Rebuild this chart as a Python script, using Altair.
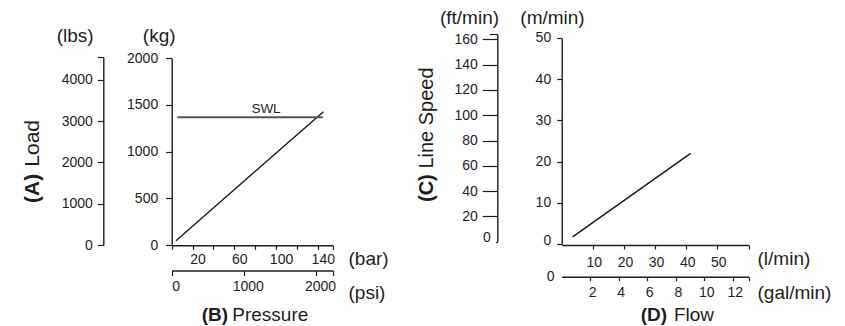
import altair as alt
import pandas as pd

# ---------------- data ----------------
# Panel (A)/(B): load vs pressure
pressure_bar = [4.1, 145.4]
load_kg = [46, 1428]
swl_bar_start = [5.4]
swl_bar_end = [144.8]
swl_kg = [1368]

kg_ticks = [0, 500, 1000, 1500, 2000]
lbs_ticks = [0, 1000, 2000, 3000, 4000]
bar_ticks = [0, 20, 40, 60, 80, 100, 120, 140]
bar_labels = [20, 60, 100, 140]
psi_ticks = [0, 1000, 2000]
kg_max, lbs_max, bar_max, psi_max = 2000, 4550, 154.6, 2236

# Panel (C)/(D): line speed vs flow
flow_lmin = [3.5, 41.4]
speed_mmin = [1.8, 22.0]
mmin_ticks = [0, 10, 20, 30, 40, 50]
ftmin_ticks = [0, 20, 40, 60, 80, 100, 120, 140, 160]
lmin_ticks = [10, 20, 30, 40, 50]
gal_ticks = [2, 4, 6, 8, 10, 12]
mmin_max, ftmin_max, lmin_max, gal_max = 50, 164, 60, 13.1

# ---------------- style / layout ----------------
FONT = "Liberation Sans"
INK = "#1e1e1e"
W, H = 829, 318

base_axis = dict(
    domainColor=INK, domainWidth=1.4, tickColor=INK, tickWidth=1.2,
    labelFont=FONT, labelFontSize=14, labelColor=INK, format="d",
    titleFont=FONT, titleFontSize=19, titleFontWeight="normal", titleColor=INK,
    grid=False, labelOverlap=False, labelFlush=False,
    titleAngle=0, titleBaseline="middle",
)


def lin(domain, rng):
    return alt.Scale(domain=domain, range=rng, nice=False, zero=False)


# left panel scales
kg_scale = lin([0, kg_max], [237, 50.3])
lbs_scale = lin([0, lbs_max], [237, 49.3])
bar_scale = lin([0, bar_max], [163.7, 325])
psi_scale = lin([0, psi_max], [163.7, 325])
# right panel scales
mmin_scale = lin([0, mmin_max], [236.3, 29.7])
ftmin_scale = lin([0, ftmin_max], [233.7, 26.3])
lmin_scale = lin([0, lmin_max], [553.7, 740.5])
gal_scale = lin([0, gal_max], [553.7, 740.5])

kg_axis = alt.Axis(orient="left", offset=-163.7, values=kg_ticks, tickSize=6,
                   labelPadding=8, title="(kg)", titleX=-13, titleY=27,
                   titleAlign="center", **base_axis)
lbs_axis = alt.Axis(orient="left", offset=-95.3, values=lbs_ticks + [lbs_max],
                    labelExpr="datum.value > 4400 ? '' : datum.label",
                    tickSize=6, labelPadding=5, title="(lbs)", titleX=-28.6,
                    titleY=27, titleAlign="center", **base_axis)
bar_axis = alt.Axis(orient="bottom", offset=237.3 - H, values=bar_ticks + [bar_max],
                    labelExpr="indexof([" + ",".join(str(v) for v in bar_labels)
                    + "], datum.value) >= 0 ? datum.label : ''",
                    tickSize=4, labelPadding=3, labelOffset=5, title="(bar)",
                    titleX=340, titleY=12.7, titleAlign="left", **base_axis)
psi_axis = alt.Axis(orient="bottom", offset=262.5 - H, values=psi_ticks + [psi_max],
                    labelExpr="datum.value > 2100 ? '' : datum.label",
                    tickSize=5, labelPadding=4, labelOffset=4, title="(psi)",
                    titleX=340, titleY=21.5, titleAlign="left", **base_axis)

mmin_axis = alt.Axis(orient="left", offset=-553.7, values=mmin_ticks, tickSize=5,
                     labelPadding=6,
                     labelBaseline={"condition": {"test": "datum.value == 0", "value": "alphabetic"},
                                    "value": "middle"},
                     title="(m/min)", titleX=-9.7, titleY=9.5, titleAlign="center",
                     **base_axis)
ftmin_axis = alt.Axis(orient="left", offset=-489.3, values=ftmin_ticks + [ftmin_max],
                      labelExpr="datum.value > 162 ? '' : datum.label",
                      tickSize={"condition": [{"test": "datum.value == 0", "value": 2},
                                              {"test": "datum.value > 162", "value": 8}],
                                "value": 15},
                      labelPadding=5,
                      labelBaseline={"condition": {"test": "datum.value == 0", "value": "alphabetic"},
                                     "value": "middle"},
                      title="(ft/min)", titleX=-28.3, titleY=9.5, titleAlign="center",
                      **base_axis)
lmin_axis = alt.Axis(orient="bottom", offset=237 - H, values=lmin_ticks + [lmin_max],
                     labelExpr="datum.value > 55 ? '' : datum.label",
                     tickSize=4, labelPadding=6, labelOffset=1, title="(l/min)",
                     titleX=749, titleY=13, titleAlign="left", **base_axis)
gal_axis = alt.Axis(orient="bottom", offset=268.7 - H, values=gal_ticks + [gal_max],
                    labelExpr="datum.value > 12.5 ? '' : datum.label",
                    tickSize=4, labelPadding=5, labelOffset=2, title="(gal/min)",
                    titleX=749, titleY=15.3, titleAlign="left", **base_axis)

# ---------------- layers ----------------
dfA = pd.DataFrame({"bar": pressure_bar, "kg": load_kg})
lineA = alt.Chart(dfA).mark_line(color="#111111", strokeWidth=1.3).encode(
    x=alt.X("bar:Q", scale=bar_scale, axis=bar_axis),
    y=alt.Y("kg:Q", scale=kg_scale, axis=kg_axis),
)

dfSWL = pd.DataFrame({"b1": swl_bar_start, "b2": swl_bar_end, "kg": swl_kg})
swl = alt.Chart(dfSWL).mark_rule(color="#555555", strokeWidth=2).encode(
    x=alt.X("b1:Q", scale=bar_scale, axis=None),
    x2="b2:Q",
    y=alt.Y("kg:Q", scale=kg_scale, axis=None),
)

ghostA = alt.Chart(pd.DataFrame({"psi": [0], "lbs": [0]})).mark_point(opacity=0).encode(
    x=alt.X("psi:Q", scale=psi_scale, axis=psi_axis),
    y=alt.Y("lbs:Q", scale=lbs_scale, axis=lbs_axis),
)

dfD = pd.DataFrame({"lmin": flow_lmin, "mmin": speed_mmin})
lineD = alt.Chart(dfD).mark_line(color="#111111", strokeWidth=1.3).encode(
    x=alt.X("lmin:Q", scale=lmin_scale, axis=lmin_axis),
    y=alt.Y("mmin:Q", scale=mmin_scale, axis=mmin_axis),
)

ghostD = alt.Chart(pd.DataFrame({"gal": [0], "ft": [0]})).mark_point(opacity=0).encode(
    x=alt.X("gal:Q", scale=gal_scale, axis=gal_axis),
    y=alt.Y("ft:Q", scale=ftmin_scale, axis=ftmin_axis),
)


def label(text, x, y, size=19, weight="normal", angle=0, align="center"):
    return alt.Chart(pd.DataFrame({"t": [text]})).mark_text(
        font=FONT, fontSize=size, fontWeight=weight, angle=angle,
        align=align, baseline="middle", color=INK,
    ).encode(x=alt.value(x), y=alt.value(y), text="t:N")


texts = [
    label("(A)", 24.7, 195, size=21, weight="bold", angle=270, align="left"),
    label("Load", 24.7, 112, size=21, angle=270, align="right"),
    label("(B)", 193.7, 307, weight="bold", align="left"),
    label("Pressure", 300.3, 307, align="right"),
    label("(C)", 419, 194, size=20, weight="bold", angle=270, align="left"),
    label("Line Speed", 419, 160.6, size=20, angle=270, align="left"),
    label("(D)", 632.7, 307, weight="bold", align="left"),
    label("Flow", 706, 307, align="right"),
    label("SWL", 258, 101.3, size=13.5),
    label("0", 546.5, 269, size=14, align="right"),
]

chart = alt.layer(lineA, swl, ghostA, lineD, ghostD, *texts).resolve_scale(
    x="independent", y="independent"
).properties(
    width=W, height=H, padding=0,
    autosize=alt.AutoSizeParams(type="none"),
).configure_view(stroke=None)

chart.save("out.html", embed_options={"renderer": "svg", "actions": False})
